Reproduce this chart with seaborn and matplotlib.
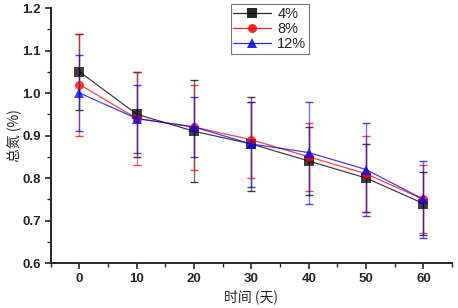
import numpy as np
import pandas as pd
import seaborn as sns
import matplotlib.pyplot as plt
from matplotlib.ticker import MultipleLocator

# data
days = [0, 10, 20, 30, 40, 50, 60]
labels = ['4%', '8%', '12%']
n4 = [1.05, 0.95, 0.91, 0.88, 0.84, 0.80, 0.74]
n8 = [1.02, 0.94, 0.92, 0.89, 0.85, 0.81, 0.75]
n12 = [1.00, 0.94, 0.92, 0.88, 0.86, 0.82, 0.75]
e4 = [0.09, 0.10, 0.12, 0.11, 0.08, 0.08, 0.075]
e8 = [0.12, 0.11, 0.10, 0.09, 0.08, 0.09, 0.08]
e12 = [0.09, 0.08, 0.07, 0.10, 0.12, 0.11, 0.09]

df = pd.DataFrame({
    'day': days * 3,
    'value': n4 + n8 + n12,
    'err': e4 + e8 + e12,
    'group': [g for g in labels for _ in days],
})

sns.set_style('ticks')
plt.rcParams['font.family'] = ['Liberation Sans', 'Noto Sans CJK SC', 'DejaVu Sans']

colors = {'4%': 'black', '8%': 'red', '12%': 'blue'}
markers = {'4%': 's', '8%': 'o', '12%': '^'}

fig = plt.figure(figsize=(4.58, 3.08), dpi=100)
ax = fig.add_axes([0.111, 0.146, 0.876, 0.828])

# error bars first, lighter
for g in labels:
    sub = df[df['group'] == g]
    ax.errorbar(sub['day'], sub['value'], yerr=sub['err'], fmt='none',
                ecolor=colors[g], alpha=0.55, elinewidth=1, capsize=3, capthick=1)

sns.lineplot(data=df, x='day', y='value', hue='group', style='group',
             palette=colors, markers=markers, dashes=False, markersize=6.5,
             markeredgewidth=0, linewidth=0.9, ax=ax, legend=False)
for ln in ax.lines:
    ln.set_alpha(0.75)

ax.set_xlim(-5, 65)
ax.set_ylim(0.6, 1.2)
ax.xaxis.set_major_locator(MultipleLocator(10))
ax.xaxis.set_minor_locator(MultipleLocator(5))
ax.yaxis.set_major_locator(MultipleLocator(0.1))
ax.yaxis.set_minor_locator(MultipleLocator(0.05))
ax.yaxis.set_major_formatter(plt.FormatStrFormatter('%.1f'))
ax.tick_params(which='major', length=4, width=1.2, labelsize=9.5, pad=3)
ax.tick_params(which='minor', length=3, width=1.0)
for lab in ax.get_xticklabels() + ax.get_yticklabels():
    lab.set_fontweight('bold')

for s in ['left', 'bottom']:
    ax.spines[s].set_linewidth(1.4)
sns.despine(ax=ax)

ax.set_xlabel('时间 (天)', family=['Noto Sans CJK SC', 'DejaVu Sans'],
              fontsize=10, labelpad=3)
ax.set_ylabel('总氮 (%)', family=['Noto Sans CJK SC', 'DejaVu Sans'],
              fontsize=10, labelpad=1)

# legend
handles = [plt.Line2D([], [], color=colors[g], marker=markers[g], markersize=6.5,
                      markeredgewidth=0, linewidth=0.9, alpha=0.85) for g in labels]
leg = fig.legend(handles, labels, loc='upper left', bbox_to_anchor=(0.497, 0.995),
                 fontsize=10.5, frameon=True, fancybox=False, edgecolor='#555555',
                 handlelength=2.6, borderpad=0.2, labelspacing=0.05, handletextpad=0.4,
                 borderaxespad=0.2)
leg.get_frame().set_linewidth(0.8)

fig.savefig('out.png', dpi=100)
